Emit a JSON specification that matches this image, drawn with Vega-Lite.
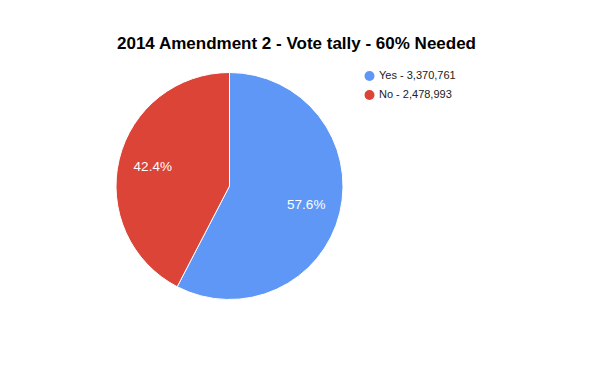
{
  "$schema": "https://vega.github.io/schema/vega-lite/v6.json",
  "autosize": "none",
  "width": 227,
  "height": 227,
  "padding": {"left": 116, "top": 72.5, "right": 257, "bottom": 71.5},
  "background": "white",
  "config": {"view": {"stroke": null}, "font": "Liberation Sans"},
  "title": {
    "text": "2014 Amendment 2 - Vote tally - 60% Needed",
    "font": "Liberation Sans",
    "fontSize": 17,
    "fontWeight": "bold",
    "color": "#000000",
    "anchor": "middle",
    "frame": "group",
    "baseline": "alphabetic",
    "offset": 5,
    "dx": 67
  },
  "data": {
    "values": [
      {"label": "Yes - 3,370,761", "votes": 3370761, "pct": "57.6%", "ord": 1},
      {"label": "No - 2,478,993", "votes": 2478993, "pct": "42.4%", "ord": 2}
    ]
  },
  "encoding": {
    "theta": {"field": "votes", "type": "quantitative", "stack": true},
    "order": {"field": "ord", "type": "quantitative"}
  },
  "layer": [
    {
      "mark": {"type": "arc", "stroke": "white", "strokeWidth": 1},
      "encoding": {
        "color": {
          "field": "label",
          "type": "nominal",
          "sort": ["Yes - 3,370,761", "No - 2,478,993"],
          "scale": {"domain": ["Yes - 3,370,761", "No - 2,478,993"], "range": ["#5e97f6", "#db4437"]},
          "legend": {
            "title": null,
            "orient": "none",
            "legendX": 248,
            "legendY": -2,
            "symbolType": "circle",
            "symbolSize": 100,
            "symbolStrokeWidth": 0,
            "labelFont": "Liberation Sans",
            "labelFontSize": 11,
            "labelColor": "#222222",
            "labelOffset": 4,
            "rowPadding": 7
          }
        }
      }
    },
    {
      "mark": {"type": "text", "radius": 79, "fontSize": 13.5, "color": "white", "font": "Liberation Sans"},
      "encoding": {"text": {"field": "pct", "type": "nominal"}}
    }
  ]
}
